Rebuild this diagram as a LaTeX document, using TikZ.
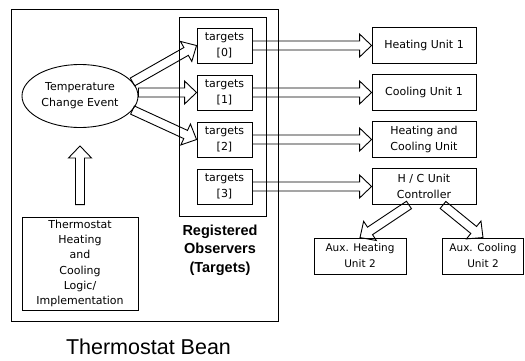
\documentclass[tikz,border=0pt]{standalone}
\usepackage{fontspec}
\setmainfont{DejaVu Sans}
\newfontfamily\headfont{Liberation Sans}
\usetikzlibrary{calc,shapes.geometric}

\tikzset{
  plainbox/.style={draw, inner sep=1pt, align=center, font=\fontsize{11}{16}\selectfont},
  tgtbox/.style={plainbox, minimum width=55pt, minimum height=35pt},
  unitbox/.style={plainbox, minimum width=104pt, minimum height=36pt},
  auxbox/.style={plainbox, minimum width=92pt, minimum height=36pt,
                 font=\fontsize{10.5}{16}\selectfont},
  % open block arrow: shaft 9pt wide, head 23pt wide and 12pt long
  fatarrow/.style={to path={
    ($(\tikztotarget)!12pt!(\tikztostart)$) coordinate (hb)
    ($(\tikztostart)!4.5pt!90:(\tikztotarget)$)
      -- ($(hb)!4.5pt!-90:(\tikztostart)$)
      -- ($(hb)!11.5pt!-90:(\tikztostart)$)
      -- (\tikztotarget)
      -- ($(hb)!11.5pt!90:(\tikztostart)$)
      -- ($(hb)!4.5pt!90:(\tikztostart)$)
      -- ($(\tikztostart)!4.5pt!-90:(\tikztotarget)$) -- cycle}}
}

\begin{document}
\begin{tikzpicture}[x=1pt,y=-1pt,line width=0.9pt]
  \useasboundingbox (0,0) rectangle (525,360);
  % the bean and its list of observers
  \draw (11,9) rectangle (278,321);
  \draw (179,17) rectangle (266,216);

  \node[ellipse, draw, minimum width=116pt, minimum height=63pt, inner sep=0pt,
        align=center, font=\fontsize{11}{16}\selectfont] (ev) at (80,96)
        {Temperature\\Change Event};
  \node[plainbox, minimum width=116pt, minimum height=93pt,
        font=\fontsize{11}{15.3}\selectfont] (logic) at (80,263.5)
        {Thermostat\\Heating\\and\\Cooling\\Logic/\\Implementation};

  \foreach \i in {0,...,3}
    \node[tgtbox] (t\i) at (224.5,45.5+47*\i) {targets\\{}[\i]};

  \node[unitbox] (u0) at (424,45.5) {Heating Unit 1};
  \node[unitbox] (u1) at (424,92.5) {Cooling Unit 1};
  \node[unitbox] (u2) at (424,139.5) {Heating and\\Cooling Unit};
  \node[unitbox] (u3) at (424,186.5) {H / C Unit\\Controller};

  \node[auxbox] (aux1) at (360,256) {Aux. Heating\\Unit 2};
  \node[auxbox, minimum width=81pt] (aux2) at (483,256) {Aux. Cooling\\Unit 2};

  \node[font=\headfont\bfseries\fontsize{14.5}{18.5}\selectfont, align=center]
        (reg) at (220,250) {Registered\\Observers\\(Targets)};
  \node[font=\headfont\fontsize{21.5}{26}\selectfont, anchor=base]
        (bean) at (148.5,354) {Thermostat Bean};

  % event fan-out
  \draw (ev.15) to[fatarrow] (t0.west);
  \draw (ev.east |- t1.west) to[fatarrow] (t1.west);
  \draw (ev.-15) to[fatarrow] (t2.west);
  \draw ([yshift=12pt]logic.north) to[fatarrow] ([yshift=-18pt]ev.south);

  \foreach \i in {0,...,3}
    \draw (t\i.east) to[fatarrow] (u\i.west);

  \draw ([xshift=-15pt]u3.south) to[fatarrow] (aux1.north);
  \draw ([xshift=19pt]u3.south) to[fatarrow] (aux2.north);
\end{tikzpicture}
\end{document}
